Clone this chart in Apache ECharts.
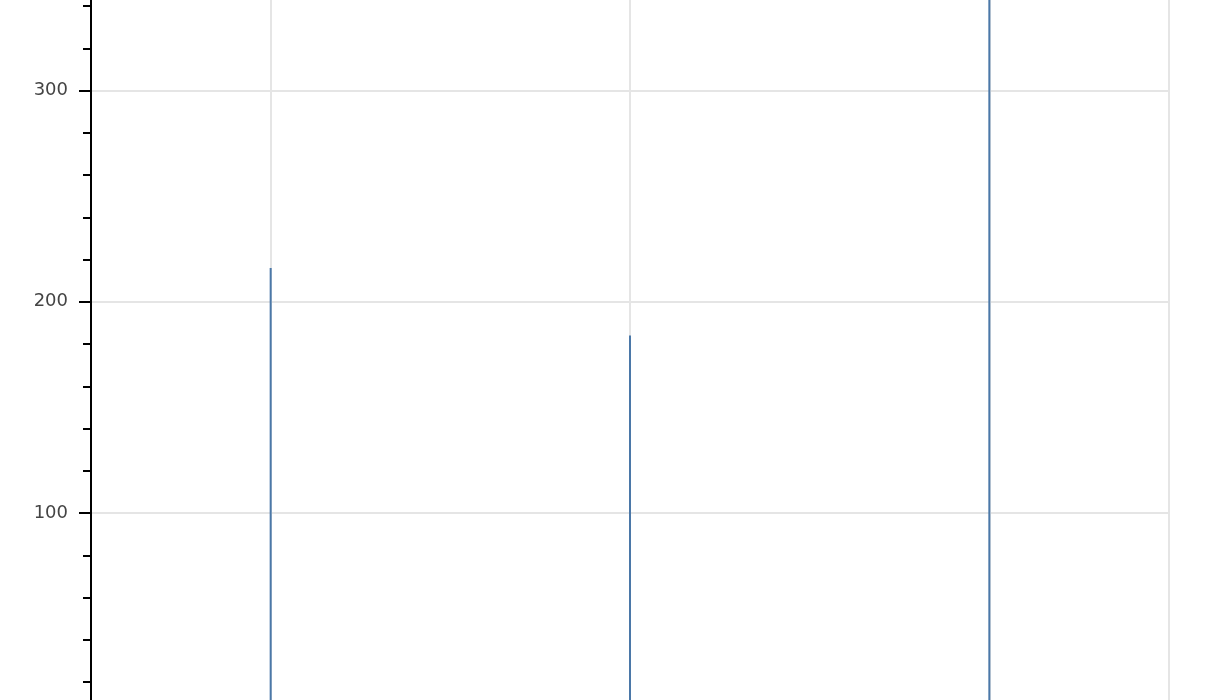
<!DOCTYPE html>
<html>
<head>
<meta charset="utf-8">
<script src="https://cdn.jsdelivr.net/npm/echarts@6/dist/echarts.min.js"></script>
<style>
html,body{margin:0;padding:0;background:#fff;}
#chart{width:1212px;height:700px;}
</style>
</head>
<body>
<div id="chart"></div>
<script>
const categories = ['A', 'B', 'C'];
const values = [216, 184, 372];
const yTicks = { min: 0, max: 360, interval: 100 };

const chart = echarts.init(document.getElementById('chart'), null, { renderer: 'canvas' });
chart.setOption({
  animation: false,
  backgroundColor: '#ffffff',
  grid: {
    left: 91, right: 43, top: -36.25, bottom: -24.25,
    outerBoundsMode: 'none',
    containLabel: false,
    show: true, borderColor: '#e5e5e5', borderWidth: 2, backgroundColor: 'transparent'
  },
  xAxis: {
    type: 'category',
    data: categories,
    boundaryGap: true,
    axisLine: { show: false },
    axisTick: { show: false },
    axisLabel: { show: false },
    splitLine: { show: true, alignWithLabel: true, lineStyle: { color: '#e5e5e5', width: 2 } }
  },
  yAxis: {
    type: 'value',
    min: yTicks.min,
    max: yTicks.max,
    interval: yTicks.interval,
    axisLine: { show: true, lineStyle: { color: '#000', width: 2 } },
    axisTick: { show: true, length: 12, lineStyle: { color: '#000', width: 2 } },
    minorTick: { show: true, splitNumber: 5, length: 8, lineStyle: { color: '#000', width: 2 } },
    axisLabel: { margin: 23, fontFamily: 'DejaVu Sans', fontSize: 18, color: '#444' },
    splitLine: { show: true, lineStyle: { color: '#e5e5e5', width: 2 } }
  },
  series: [{
    type: 'bar',
    data: values,
    barWidth: 2,
    itemStyle: { color: '#4b78a8' },
    clip: true
  }]
});
</script>
</body>
</html>
